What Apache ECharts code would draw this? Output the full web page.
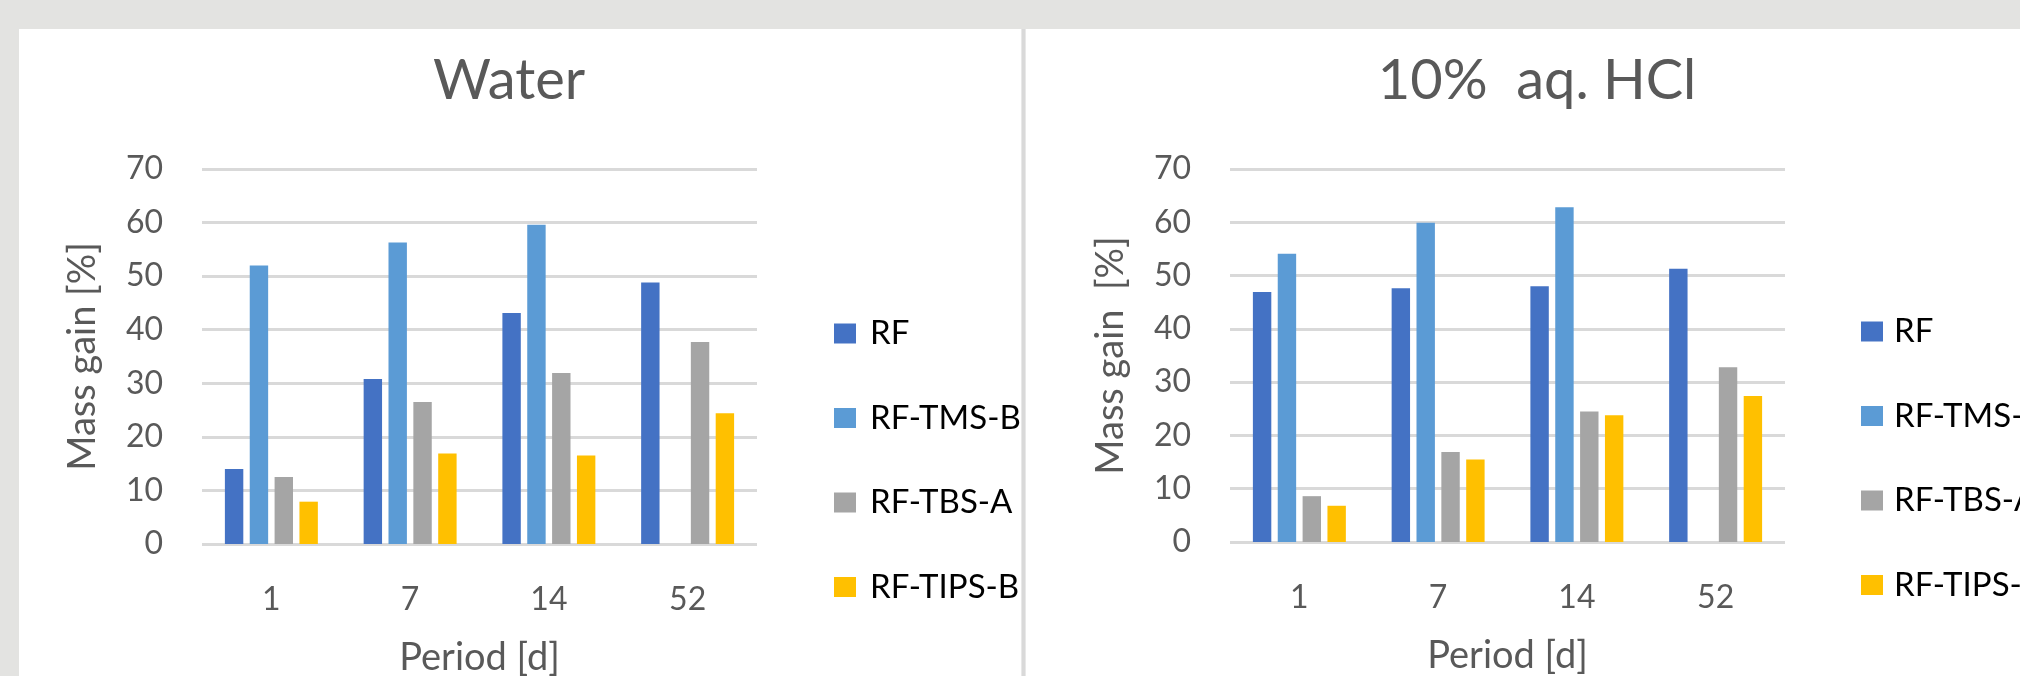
<!DOCTYPE html>
<html>
<head>
<meta charset="utf-8">
<script src="https://cdn.jsdelivr.net/npm/echarts@6/dist/echarts.min.js"></script>
<style>
  html, body { margin: 0; padding: 0; background: #ffffff; }
  #wrap { position: relative; width: 2020px; height: 676px; overflow: hidden; background: #ffffff; }
  .frame { position: absolute; background: #e3e3e1; }
  #divider { position: absolute; left: 1021px; top: 29px; width: 3px; height: 647px;
             background: #d9d9d9; border-left: 1px solid #e8e8e8; border-right: 1px solid #e8e8e8; }
  #chart { position: absolute; left: 0; top: 0; width: 2020px; height: 676px; }
</style>
</head>
<body>
<div id="wrap">
  <div class="frame" style="left:0;top:0;width:2020px;height:29px;"></div>
  <div class="frame" style="left:0;top:0;width:19px;height:676px;"></div>
  <div id="divider"></div>
  <div id="chart"></div>
</div>
<script>
// Immersion periods (days)
const periods = ['1', '7', '14', '52'];
const seriesNames = ['RF', 'RF-TMS-B', 'RF-TBS-A', 'RF-TIPS-B'];
const seriesColors = ['#4472C4', '#5B9BD5', '#A5A5A5', '#FFC000'];
const yTicks = [0, 10, 20, 30, 40, 50, 60, 70];

// Mass gain [%] in water
const waterRF   = [14.0, 30.8, 43.1, 48.8];
const waterTMS  = [52.0, 56.3, 59.6, null];
const waterTBS  = [12.5, 26.5, 31.9, 37.7];
const waterTIPS = [7.9, 16.9, 16.5, 24.4];

// Mass gain [%] in 10% aqueous HCl
const hclRF   = [46.9, 47.6, 48.0, 51.3];
const hclTMS  = [54.1, 59.9, 62.8, null];
const hclTBS  = [8.6, 16.9, 24.5, 32.8];
const hclTIPS = [6.8, 15.5, 23.8, 27.4];

const FONT = 'Lato';
const GREY_TEXT = '#595959';

const panels = [
  { title: 'Water', yName: 'Mass gain [%]', data: [waterRF, waterTMS, waterTBS, waterTIPS],
    grid: { left: 202, top: 169, width: 555, height: 375 }, titleX: 509,
    legend: { left: 829, top: 312, pad: 9 } },
  { title: '10%  aq. HCl', yName: 'Mass gain  [%]', data: [hclRF, hclTMS, hclTBS, hclTIPS],
    grid: { left: 1230, top: 169, width: 555, height: 373 }, titleX: 1537,
    legend: { left: 1856, top: 310, pad: 6 } }
];

const option = {
  animation: false,
  backgroundColor: 'transparent',
  textStyle: { fontFamily: FONT },
  graphic: panels.map(p => ({
    type: 'text', x: p.titleX, y: 81,
    style: { text: p.title, fill: GREY_TEXT, font: '56px ' + FONT, align: 'center', verticalAlign: 'middle' }
  })),
  // fixed plot rectangles; labels may sit outside them freely
  grid: panels.map(p => Object.assign({ containLabel: false, outerBoundsMode: 'none' }, p.grid)),
  legend: panels.map(p => ({
    orient: 'vertical',
    left: p.legend.left,
    top: p.legend.top,
    itemWidth: 22,
    itemHeight: 20,
    itemGap: 51.5,
    icon: 'rect',
    data: seriesNames,
    textStyle: { fontSize: 33, color: '#000000', fontFamily: FONT, lineHeight: 20,
                 padding: [6, 0, 0, p.legend.pad] }
  })),
  xAxis: panels.map((p, i) => ({
    type: 'category',
    gridIndex: i,
    data: periods,
    axisLine: { show: false },
    axisTick: { show: false },
    axisLabel: { fontSize: 32, color: GREY_TEXT, margin: 40, fontFamily: FONT },
    name: 'Period [d]',
    nameLocation: 'middle',
    nameGap: 95,
    nameTextStyle: { fontSize: 38, color: GREY_TEXT, fontFamily: FONT }
  })),
  yAxis: panels.map((p, i) => ({
    type: 'value',
    gridIndex: i,
    min: yTicks[0],
    max: yTicks[yTicks.length - 1],
    interval: yTicks[1] - yTicks[0],
    axisLine: { show: false },
    axisTick: { show: false },
    axisLabel: { fontSize: 32, color: GREY_TEXT, margin: 39, fontFamily: FONT },
    splitLine: { show: true, lineStyle: { color: '#d9d9d9', width: 3 } },
    name: p.yName,
    nameLocation: 'middle',
    nameRotate: 90,
    nameGap: 100,
    nameTextStyle: { fontSize: 38, color: GREY_TEXT, fontFamily: FONT }
  })),
  series: []
};

panels.forEach((p, i) => {
  seriesNames.forEach((name, k) => {
    option.series.push({
      type: 'bar',
      name: name,
      xAxisIndex: i,
      yAxisIndex: i,
      data: p.data[k],
      itemStyle: { color: seriesColors[k] },
      barGap: '35%',
      barCategoryGap: '33%'
    });
  });
});

const chart = echarts.init(document.getElementById('chart'), null, { renderer: 'canvas' });
chart.setOption(option);
</script>
</body>
</html>
